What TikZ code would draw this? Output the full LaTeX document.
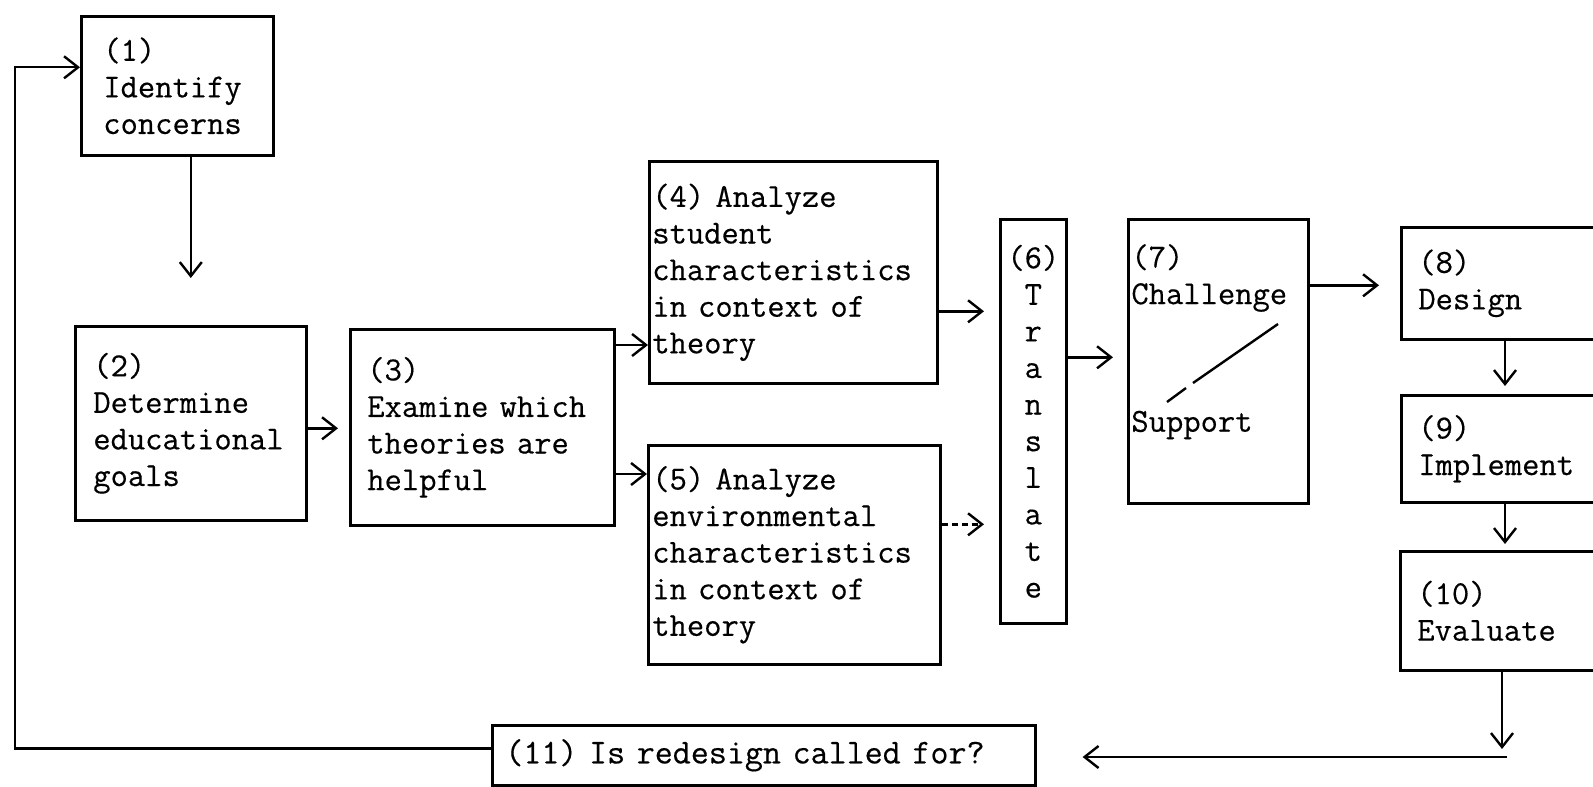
\documentclass[tikz,border=0pt]{standalone}
\usepackage{fontspec}
\newfontfamily\typew[FakeBold=0.4]{Latin Modern Mono}
\usetikzlibrary{arrows.meta,calc}
\hyphenpenalty=10000
\exhyphenpenalty=10000
\tikzset{
  tw/.style={font=\typew\fontsize{16.8}{18.3}\selectfont},
  box/.style={tw, draw, line width=1.3pt, anchor=north west, inner ysep=0pt, align=left},
  txt/.style={tw, inner sep=0pt, align=left},
  arr/.style={line width=1.2pt, -{Straight Barb[length=7pt,width=11pt,line width=1.2pt]}},
  slash/.style={line width=1.2pt}
}
\begin{document}
\begin{tikzpicture}[x=0.5pt,y=-0.5pt]
\useasboundingbox (0,0) rectangle (1593,786);
\fill[white] (0,0) rectangle (1593,786);
\clip (0,0) rectangle (1593,786);

% boxes
\node[box, minimum width=96pt, minimum height=69.5pt, inner xsep=11pt, text width=74pt] (b1) at (80,15) {(1)\\Identify\\concerns};
\node[box, minimum width=115.5pt, minimum height=97pt, inner xsep=9pt, text width=97.5pt] (b2) at (74,325) {(2)\\Determine\\educational\\goals};
\node[box, minimum width=132pt, minimum height=98pt, inner xsep=8.5pt, text width=115pt] (b3) at (349,328) {(3)\\Examine which\\theories are\\helpful};
\node[box, minimum width=144pt, minimum height=111pt, inner xsep=1.5pt, text width=141pt] (b4) at (648,160) {(4) Analyze\\student\\characteristics\\in context of\\theory};
\node[box, minimum width=146pt, minimum height=109.5pt, inner xsep=2pt, text width=142pt] (b5) at (647,444) {(5) Analyze\\environmental\\characteristics\\in context of\\theory};
\node[box, align=center, minimum width=33pt, minimum height=202pt, inner xsep=0pt] (b6) at (999,218) {(6)\\T\\r\\a\\n\\s\\l\\a\\t\\e};
\node[box, minimum width=90pt, minimum height=142pt] (b7) at (1127,218) {};
\node[box, minimum width=110pt, minimum height=56pt, inner xsep=8.5pt, text width=93pt] (b8) at (1400,226) {(8)\\Design};
\node[box, minimum width=110pt, minimum height=53.5pt, inner xsep=8.5pt, text width=93pt] (b9) at (1400,394) {(9)\\Implement};
\node[box, minimum width=110pt, minimum height=59.5pt, inner xsep=8.5pt, text width=93pt] (b10) at (1399,550) {(10)\\Evaluate};
\node[box, font=\typew\fontsize{17.5}{19}\selectfont, minimum width=271.5pt, minimum height=30pt, inner xsep=6.5pt, text width=258.5pt] (b11) at (491,724) {(11) Is redesign called for?};

% box 7 contents
\node[txt, anchor=west] (t7a) at (1131,278) {(7)\\Challenge};
\node[txt, anchor=west] (t7b) at (1131,425) {Support};
\coordinate (s1) at (1278,324);
\coordinate (s2) at (1193,383);
\coordinate (s3) at (1186,388);
\coordinate (s4) at (1167,402);
\draw[slash] (s1) -- (s2);
\draw[slash] (s3) -- (s4);

% connectors
\draw[arr, shorten >=23.5pt] (b1.south -| b2.north) -- (b2.north);

\coordinate (p23) at ([yshift=-2.5pt]b2.east);
\draw[arr, shorten >=5.5pt] (p23) -- (p23 -| b3.west);

\coordinate (p34) at ([yshift=-8.5pt]b3.north east);
\draw[arr] (p34) -- (p34 -| b4.west);
\coordinate (p35) at ([yshift=-73pt]b3.north east);
\draw[arr] (p35) -- (p35 -| b5.west);

\coordinate (p46) at ([yshift=-19.5pt]b4.east);
\draw[arr, shorten >=7.5pt] (p46) -- (p46 -| b6.west);
\coordinate (p56) at ([yshift=15.25pt]b5.east);
\draw[arr, densely dashed, shorten >=7.5pt] (p56) -- (p56 -| b6.west);

\coordinate (p67) at ([yshift=32pt]b6.east);
\draw[arr, shorten >=7pt] (p67) -- (p67 -| b7.west);
\coordinate (p78) at ([yshift=38pt]b7.east);
\draw[arr, shorten >=10.5pt] (p78) -- (p78 -| b8.west);

\coordinate (p89) at ([xshift=52.5pt]b8.south west);
\draw[arr, shorten >=4pt] (p89) -- (p89 |- b9.north);
\coordinate (p910) at ([xshift=52.5pt]b9.south west);
\draw[arr, shorten >=3pt] (p910) -- (p910 |- b10.north);

\coordinate (p10) at ([xshift=51.5pt]b10.south west);
\coordinate (d10) at (1502,749);
\draw[arr] (p10) -- (d10);

\coordinate (h1) at (1507,757);
\draw[arr, shorten >=23pt] (h1) -- (h1 -| b11.east);

\coordinate (lc) at (15,0);
\coordinate (q1) at ([yshift=3.5pt]b11.west);
\coordinate (q2) at ([yshift=9.25pt]b1.west);
\draw[arr] (q1) -- (q1 -| lc) -- (lc |- q2) -- (q2);
\end{tikzpicture}
\end{document}
